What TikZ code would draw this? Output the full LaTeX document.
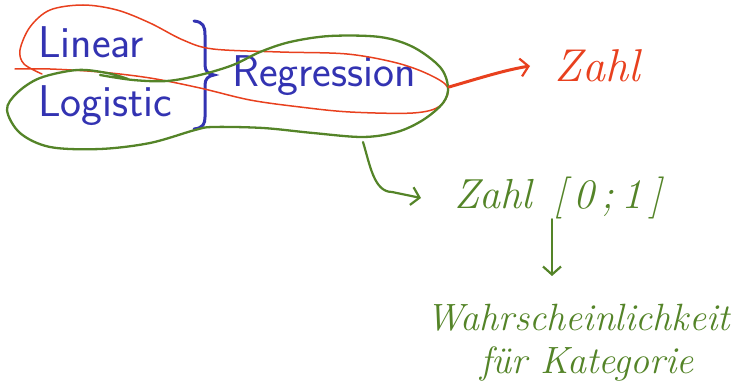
\documentclass[tikz,border=0pt]{standalone}
\usetikzlibrary{arrows.meta}
\definecolor{structblue}{RGB}{51,51,178}
\definecolor{inkred}{RGB}{232,64,30}
\definecolor{inkgreen}{RGB}{84,132,40}
\tikzset{
  word/.style={text=structblue,font=\sffamily\fontsize{44.5}{50}\selectfont,inner sep=0pt,anchor=base west},
  redink/.style={draw=inkred,line cap=round,line join=round},
  greenink/.style={draw=inkgreen,line cap=round,line join=round},
  hand/.style={font=\itshape\fontsize{#1}{#1}\selectfont,inner sep=0pt},
  barb/.style={-{Straight Barb[length=8pt,width=18pt,line width=2.2pt]}}
}
\begin{document}
\begin{tikzpicture}[x=1pt,y=-1pt]
\useasboundingbox (0,0) rectangle (739,387);
% words
\node[word] (lin) at (38,58) {Linear};
\node[word] (log) at (38,117) {Logistic};
\node[word] (reg) at (232,87) {Regression};
% brace
\draw[structblue,line width=3pt,line cap=round]
  (194,21) .. controls (203,22) and (205,26) .. (205,35) -- (205,65)
  .. controls (205,71) and (208,74) .. (214,75)
  .. controls (208,76) and (205,79) .. (205,85) -- (205,117)
  .. controls (205,124) and (203,128) .. (194,129);
% red loop
\draw[redink,line width=1.5pt] plot[smooth,tension=0.55] coordinates {
  (15,69) (50,69) (100,72) (150,78) (200,88) (250,100) (300,107) (350,112)
  (413,113) (440,106) (448,88) (430,75) (397,63) (347,54) (280,52) (213,49)
  (183,40) (150,23) (117,10) (83,5) (50,10) (30,27) (20,50) (24,64) (42,74)};
% green loop
\draw[greenink,line width=2.3pt] plot[smooth,tension=0.55] coordinates {
  (100,75) (133,80) (167,81) (200,75) (233,65) (260,52) (290,42) (330,36)
  (380,37) (413,47) (440,67) (448,87) (443,103) (423,120) (397,132) (363,137)
  (313,133) (263,128) (213,127) (195,130) (150,143) (100,149) (50,147)
  (20,133) (7,110) (17,93) (40,78) (77,70) (107,73) (128,79)};
% handwritten labels
\node[hand=46,text=inkred] (zahl) at (597,66) {Zahl};
\node[hand=42,text=inkgreen] (zahl01) at (558,198) {Zahl\hspace{22pt}[\,0\,;\,1\,]};
\node[hand=38,text=inkgreen] (wahr) at (578,318) {Wahrscheinlichkeit};
\node[hand=38,text=inkgreen] (kat) at (587,364) {für Kategorie};
% connectors
\coordinate (rs) at (449,87);
\coordinate (gs) at (363,142);
\draw[redink,line width=3pt,barb] (rs) .. controls (480,78) and (505,70) .. (zahl.west -| 530,63) ;
\draw[greenink,line width=2.2pt,barb] (gs) .. controls (370,165) and (374,192) .. (392,192) -- (zahl01.west -| 421,191);
\draw[greenink,line width=2.2pt,barb] (zahl01.south -| 552,245) -- (552,276);
\end{tikzpicture}
\end{document}
